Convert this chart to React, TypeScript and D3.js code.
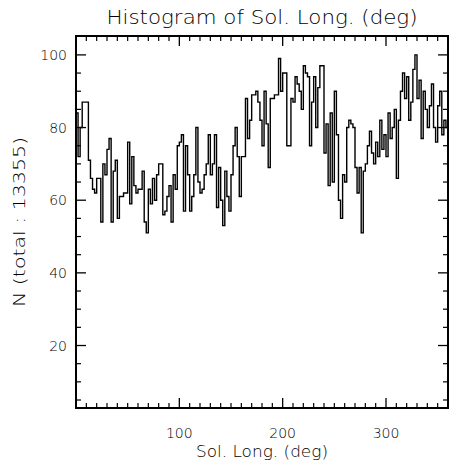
import React from "react";
import * as d3 from "d3";

const binWidth = 2;
const counts: number[] = [
  84, 72, 80, 87, 87, 87, 71, 66, 63, 62,
  66, 66, 54, 70, 67, 74, 77, 54, 68, 71,
  55, 61, 61, 62, 62, 76, 59, 72, 64, 62,
  63, 63, 68, 54, 51, 63, 59, 66, 60, 67,
  70, 70, 56, 57, 61, 64, 54, 67, 63, 75,
  76, 78, 57, 75, 67, 57, 61, 67, 80, 65,
  62, 63, 67, 70, 78, 67, 70, 78, 58, 69,
  60, 53, 68, 61, 57, 67, 75, 80, 72, 61,
  72, 72, 88, 77, 82, 89, 89, 90, 87, 82,
  75, 90, 81, 69, 88, 88, 89, 89, 99, 90,
  95, 95, 75, 75, 88, 87, 94, 92, 90, 85,
  97, 95, 94, 75, 87, 94, 80, 91, 97, 97,
  73, 81, 64, 84, 65, 90, 78, 60, 55, 67,
  65, 80, 82, 81, 80, 69, 62, 69, 51, 68,
  70, 75, 79, 73, 70, 76, 72, 82, 74, 78,
  72, 84, 77, 80, 85, 66, 82, 90, 95, 88,
  94, 82, 87, 96, 100, 88, 93, 77, 90, 85,
  80, 86, 92, 80, 76, 86, 90, 78, 82, 80,
];
const xMajorTicks = [100, 200, 300];
const yMajorTicks = [20, 40, 60, 80, 100];
const titleText = "Histogram of Sol. Long. (deg)";
const xLabelText = "Sol. Long. (deg)";
const yLabelText = "N (total : 13355)";

const W = 449;
const H = 462;
const left = 76;
const right = 448;
const top = 36;
const bottom = 408;

export default function App() {
  const x = d3.scaleLinear().domain([0, 360]).range([left, right]);
  const y = d3.scaleLinear().domain([2.8, 105.2]).range([bottom, top]);

  const pts: [number, number][] = counts.map((c, i) => [i * binWidth, c]);
  pts.push([counts.length * binWidth, counts[counts.length - 1]]);
  const line = d3
    .line<[number, number]>()
    .x((d) => x(d[0]))
    .y((d) => y(d[1]))
    .curve(d3.curveStepAfter);

  const xMinor = d3.range(10, 360, 10).filter((v) => !xMajorTicks.includes(v));
  const yMinor = d3.range(5, 105, 5).filter((v) => !yMajorTicks.includes(v));
  const font = "'DejaVu Sans', sans-serif";
  const fw = 200;
  const majLen = 10;
  const minLen = 5;

  return (
    <svg
      width={W}
      height={H}
      style={{ position: "absolute", left: 0, top: 0, background: "#fff" }}
    >
      <rect x={0} y={0} width={W} height={H} fill="#fff" />
      <text
        x={(left + right) / 2}
        y={24}
        textAnchor="middle"
        fontFamily={font}
        fontWeight={fw}
        fontSize={19}
        textLength={311}
        lengthAdjust="spacingAndGlyphs"
      >
        {titleText}
      </text>
      <path d={line(pts) || ""} fill="none" stroke="#000" strokeWidth={1.4} />
      {xMajorTicks.map((t) => (
        <g key={"xm" + t}>
          <line x1={x(t)} x2={x(t)} y1={bottom} y2={bottom - majLen} stroke="#000" strokeWidth={1.3} />
          <line x1={x(t)} x2={x(t)} y1={top} y2={top + majLen} stroke="#000" strokeWidth={1.3} />
          <text x={x(t)} y={438} textAnchor="middle" fontFamily={font} fontWeight={fw} fontSize={14}>
            {t}
          </text>
        </g>
      ))}
      {xMinor.map((t) => (
        <g key={"xn" + t}>
          <line x1={x(t)} x2={x(t)} y1={bottom} y2={bottom - minLen} stroke="#000" strokeWidth={1.2} />
          <line x1={x(t)} x2={x(t)} y1={top} y2={top + minLen} stroke="#000" strokeWidth={1.2} />
        </g>
      ))}
      {yMajorTicks.map((t) => (
        <g key={"ym" + t}>
          <line x1={left} x2={left + majLen} y1={y(t)} y2={y(t)} stroke="#000" strokeWidth={1.3} />
          <line x1={right} x2={right - majLen} y1={y(t)} y2={y(t)} stroke="#000" strokeWidth={1.3} />
          <text x={67} y={y(t) + 5} textAnchor="end" fontFamily={font} fontWeight={fw} fontSize={14}>
            {t}
          </text>
        </g>
      ))}
      {yMinor.map((t) => (
        <g key={"yn" + t}>
          <line x1={left} x2={left + minLen} y1={y(t)} y2={y(t)} stroke="#000" strokeWidth={1.2} />
          <line x1={right} x2={right - minLen} y1={y(t)} y2={y(t)} stroke="#000" strokeWidth={1.2} />
        </g>
      ))}
      <rect
        x={left}
        y={top}
        width={right - left}
        height={bottom - top}
        fill="none"
        stroke="#000"
        strokeWidth={2}
      />
      <text
        x={(left + right) / 2}
        y={457}
        textAnchor="middle"
        fontFamily={font}
        fontWeight={fw}
        fontSize={15}
        textLength={132}
        lengthAdjust="spacingAndGlyphs"
      >
        {xLabelText}
      </text>
      <text
        transform={`translate(25, ${(top + bottom) / 2}) rotate(-90)`}
        textAnchor="middle"
        fontFamily={font}
        fontWeight={fw}
        fontSize={15}
        textLength={170}
        lengthAdjust="spacingAndGlyphs"
      >
        {yLabelText}
      </text>
    </svg>
  );
}
